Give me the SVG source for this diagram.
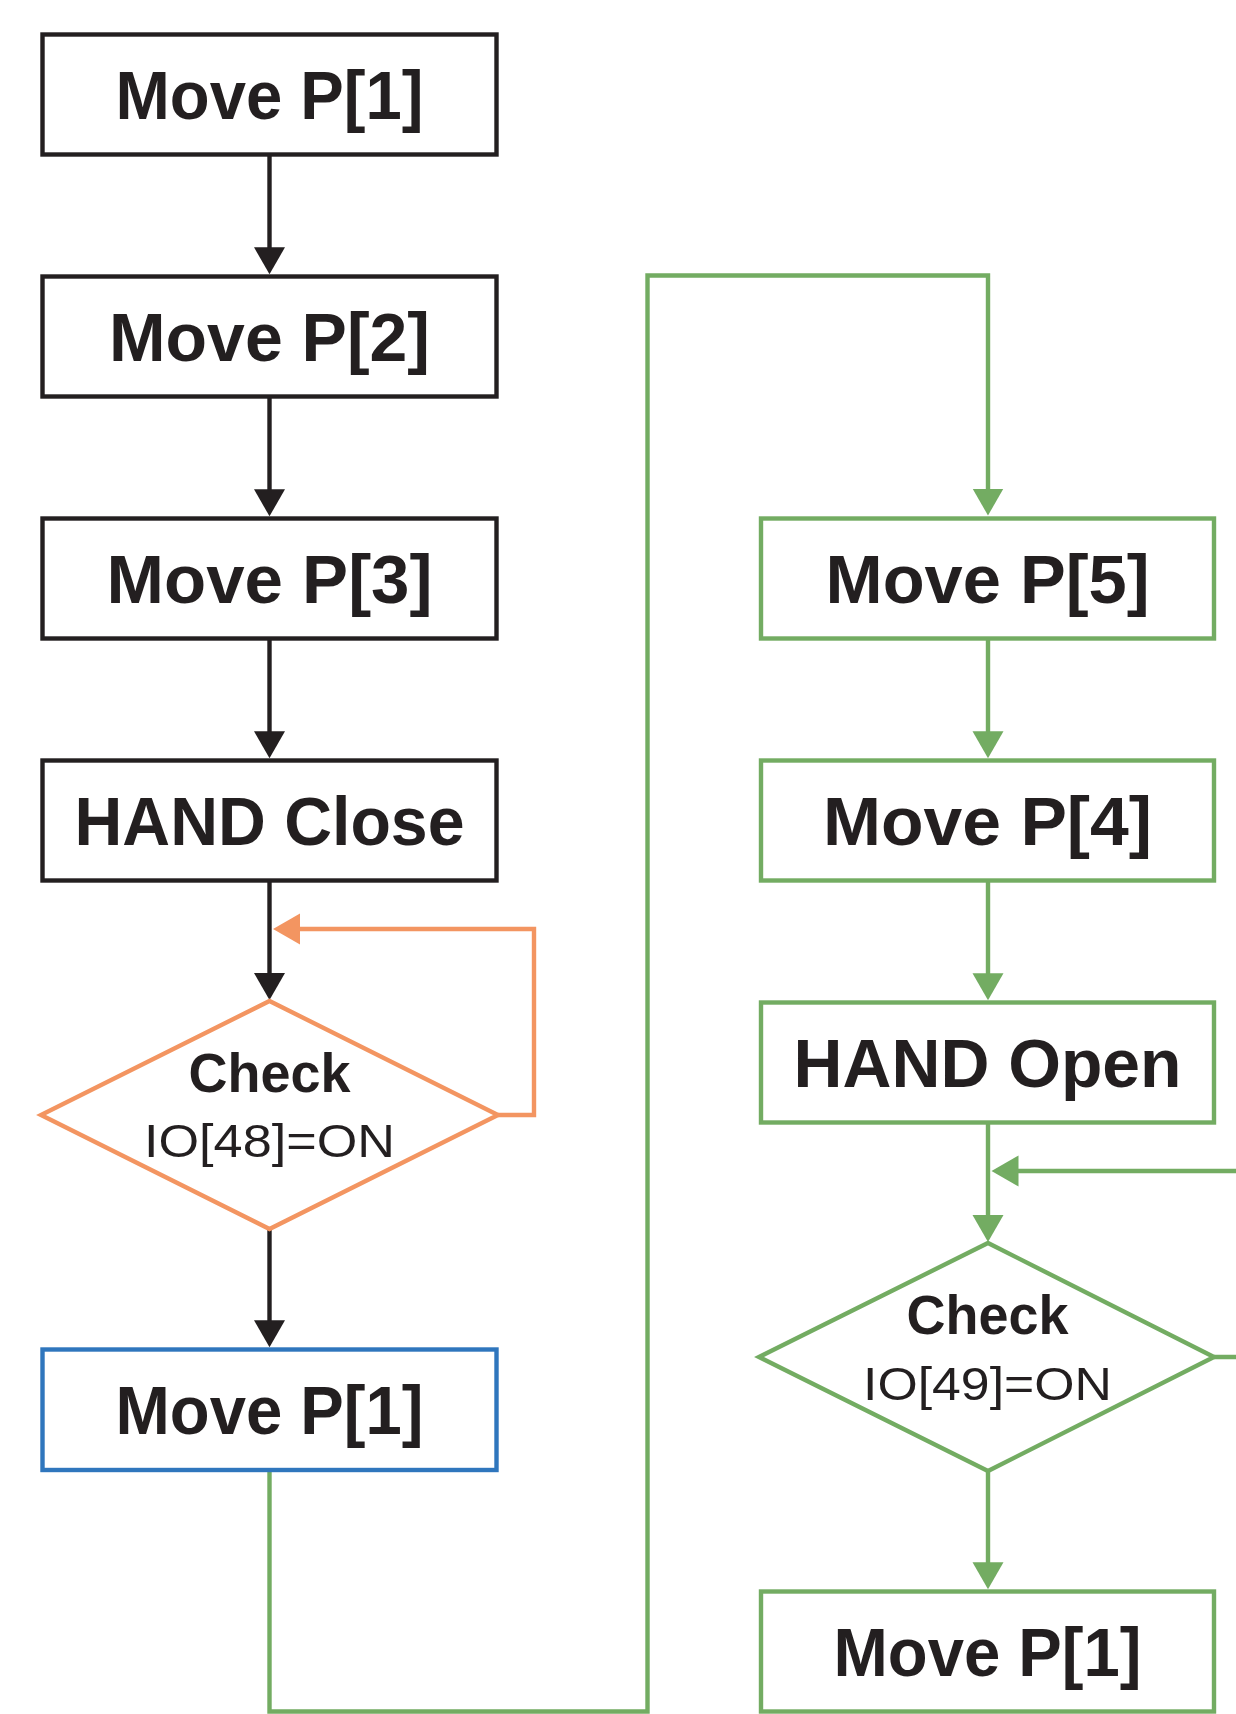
<svg xmlns="http://www.w3.org/2000/svg" width="1236" height="1714" viewBox="0 0 1236 1714">
<style>
  .box { fill: #ffffff; stroke-width: 4.4; }
  .k { stroke: #231f20; }
  .g { stroke: #73ac62; }
  .o { stroke: #f39561; }
  .b { stroke: #2f76bd; }
  .t { font-family: "Liberation Sans", Arial, sans-serif; font-weight: bold; font-size: 68px; fill: #231f20; text-anchor: middle; }
  .c { font-family: "Liberation Sans", Arial, sans-serif; font-weight: bold; font-size: 56px; fill: #231f20; text-anchor: middle; }
  .io { font-family: "Liberation Sans", Arial, sans-serif; font-weight: normal; font-size: 47px; fill: #231f20; text-anchor: middle; }
  .ln { fill: none; stroke-width: 4.4; }
</style>
<defs>
  <marker id="ak" markerUnits="userSpaceOnUse" markerWidth="28" markerHeight="32" refX="1" refY="15.5" orient="auto">
    <path d="M0,0 L27,15.5 L0,31 z" fill="#231f20"/>
  </marker>
  <marker id="ag" markerUnits="userSpaceOnUse" markerWidth="28" markerHeight="32" refX="1" refY="15.5" orient="auto">
    <path d="M0,0 L27,15.5 L0,31 z" fill="#73ac62"/>
  </marker>
  <marker id="ao" markerUnits="userSpaceOnUse" markerWidth="28" markerHeight="32" refX="1" refY="15.5" orient="auto">
    <path d="M0,0 L27,15.5 L0,31 z" fill="#f39561"/>
  </marker>
</defs>
<rect width="1236" height="1714" fill="#ffffff"/>

<g id="connectors">
  <path class="ln k" d="M269.5,154.5 V248.3" marker-end="url(#ak)"/>
  <path class="ln k" d="M269.5,396.5 V490.3" marker-end="url(#ak)"/>
  <path class="ln k" d="M269.5,638.5 V732.3" marker-end="url(#ak)"/>
  <path class="ln k" d="M269.5,880.5 V974" marker-end="url(#ak)"/>
  <path class="ln k" d="M269.5,1229 V1321.3" marker-end="url(#ak)"/>
  <path class="ln o" d="M498,1115 H534 V929 H299" marker-end="url(#ao)"/>
  <path class="ln g" d="M269.5,1470 V1711.5 H647.5 V275.5 H988 V489.5" marker-end="url(#ag)"/>
  <path class="ln g" d="M988,638.5 V732.3" marker-end="url(#ag)"/>
  <path class="ln g" d="M988,880.5 V974.3" marker-end="url(#ag)"/>
  <path class="ln g" d="M988,1122.5 V1216" marker-end="url(#ag)"/>
  <path class="ln g" d="M988,1471 V1563.3" marker-end="url(#ag)"/>
  <path class="ln g" d="M1214,1357 H1250 V1171 H1017.5" marker-end="url(#ag)"/>
</g>

<g id="n1">
  <rect class="box k" x="42.5" y="34.5" width="454" height="120"/>
  <text class="t" x="269.5" y="118.5" textLength="308" lengthAdjust="spacingAndGlyphs">Move P[1]</text>
</g>
<g id="n2">
  <rect class="box k" x="42.5" y="276.5" width="454" height="120"/>
  <text class="t" x="269.5" y="360.5" textLength="321" lengthAdjust="spacingAndGlyphs">Move P[2]</text>
</g>
<g id="n3">
  <rect class="box k" x="42.5" y="518.5" width="454" height="120"/>
  <text class="t" x="269.5" y="602.5" textLength="326" lengthAdjust="spacingAndGlyphs">Move P[3]</text>
</g>
<g id="n4">
  <rect class="box k" x="42.5" y="760.5" width="454" height="120"/>
  <text class="t" x="269.5" y="844.5" textLength="390" lengthAdjust="spacingAndGlyphs">HAND Close</text>
</g>
<g id="n5">
  <polygon class="box o" points="269.5,1001 498,1115 269.5,1229 41,1115"/>
  <text class="c" x="269.5" y="1091.7" textLength="162" lengthAdjust="spacingAndGlyphs">Check</text>
  <text class="io" x="269.5" y="1156.7" textLength="251" lengthAdjust="spacingAndGlyphs">IO[48]=ON</text>
</g>
<g id="n6">
  <rect class="box b" x="42.5" y="1349.5" width="454" height="120.5"/>
  <text class="t" x="269.5" y="1433.7" textLength="308" lengthAdjust="spacingAndGlyphs">Move P[1]</text>
</g>

<g id="n7">
  <rect class="box g" x="761" y="518.5" width="453" height="120"/>
  <text class="t" x="987.5" y="602.5" textLength="324" lengthAdjust="spacingAndGlyphs">Move P[5]</text>
</g>
<g id="n8">
  <rect class="box g" x="761" y="760.5" width="453" height="120"/>
  <text class="t" x="987.5" y="844.5" textLength="329" lengthAdjust="spacingAndGlyphs">Move P[4]</text>
</g>
<g id="n9">
  <rect class="box g" x="761" y="1002.5" width="453" height="120"/>
  <text class="t" x="987.5" y="1086.5" textLength="388" lengthAdjust="spacingAndGlyphs">HAND Open</text>
</g>
<g id="n10">
  <polygon class="box g" points="988,1243 1214,1357 988,1471 759,1357"/>
  <text class="c" x="987.5" y="1333.5" textLength="162" lengthAdjust="spacingAndGlyphs">Check</text>
  <text class="io" x="987.5" y="1399.5" textLength="249" lengthAdjust="spacingAndGlyphs">IO[49]=ON</text>
</g>
<g id="n11">
  <rect class="box g" x="761" y="1591.5" width="453" height="120"/>
  <text class="t" x="987.5" y="1675.7" textLength="308" lengthAdjust="spacingAndGlyphs">Move P[1]</text>
</g>
</svg>
